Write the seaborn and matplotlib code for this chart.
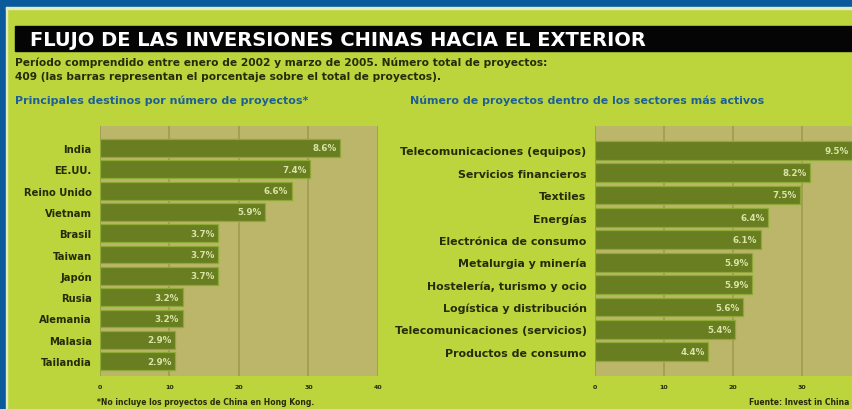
import matplotlib.pyplot as plt
from matplotlib.patches import Rectangle
import pandas as pd
import seaborn as sns

# principales destinos (numero de proyectos y porcentaje rotulado)
destinos = ["India", "EE.UU.", "Reino Unido", "Vietnam", "Brasil", "Taiwan",
            "Japón", "Rusia", "Alemania", "Malasia", "Tailandia"]
destinos_proy = [34.5, 30.2, 27.6, 23.7, 17.0, 17.0, 17.0, 11.9, 11.9, 10.8, 10.8]
destinos_pct = ["8.6%", "7.4%", "6.6%", "5.9%", "3.7%", "3.7%", "3.7%",
                "3.2%", "3.2%", "2.9%", "2.9%"]

# sectores mas activos
sectores = ["Telecomunicaciones (equipos)", "Servicios financieros", "Textiles",
            "Energías", "Electrónica de consumo", "Metalurgia y minería",
            "Hostelería, turismo y ocio", "Logística y distribución",
            "Telecomunicaciones (servicios)", "Productos de consumo"]
sectores_proy = [37.3, 31.2, 29.7, 25.1, 24.0, 22.8, 22.8, 21.4, 20.3, 16.4]
sectores_pct = ["9.5%", "8.2%", "7.5%", "6.4%", "6.1%", "5.9%", "5.9%",
                "5.6%", "5.4%", "4.4%"]

ticks = [0, 10, 20, 30, 40]

LIME = "#bdd53c"
TAN = "#bcb66a"
GRID = "#a39c55"
BAR = "#687e20"
BAR_EDGE = "#8eaa36"
TXT = "#262b08"
BLUE_TXT = "#1d5f96"
FRAME = "#0a5a9c"

W, H = 853, 410

fig = plt.figure(figsize=(8.53, 4.10), dpi=100, facecolor=LIME)

# marco azul arriba e izquierda
fig.patches.append(Rectangle((0, 1 - 8 / H), 1, 8 / H, transform=fig.transFigure, color=FRAME))
fig.patches.append(Rectangle((0, 0), 6 / W, 1, transform=fig.transFigure, color=FRAME))
fig.patches.append(Rectangle((6 / W, 1 - 10 / H), 1, 2 / H, transform=fig.transFigure, color="#e4edc0"))
fig.patches.append(Rectangle((6 / W, 0), 1.5 / W, 1 - 8 / H, transform=fig.transFigure, color="#e4edc0"))

# barra del titulo
fig.patches.append(Rectangle((15 / W, 1 - 52 / H), 1, 25 / H, transform=fig.transFigure, color="#050505"))
fig.text(30 / W, 1 - 40 / H, "FLUJO DE LAS INVERSIONES CHINAS HACIA EL EXTERIOR",
         color="white", fontsize=14, fontweight="bold", va="center", ha="left")

fig.text(15 / W, 1 - 63 / H,
         "Período comprendido entre enero de 2002 y marzo de 2005. Número total de proyectos:",
         color=TXT, fontsize=7.7, fontweight="bold", va="center")
fig.text(15 / W, 1 - 77 / H,
         "409 (las barras representan el porcentaje sobre el total de proyectos).",
         color=TXT, fontsize=7.7, fontweight="bold", va="center")

fig.text(15 / W, 1 - 101 / H, "Principales destinos por número de proyectos*",
         color=BLUE_TXT, fontsize=8, fontweight="bold", va="center")
fig.text(410 / W, 1 - 101 / H, "Número de proyectos dentro de los sectores más activos",
         color=BLUE_TXT, fontsize=7.9, fontweight="bold", va="center")


def panel(ax, names, vals, pcts, ylim, ylab_size, xlabels):
    df = pd.DataFrame({"nombre": names, "proyectos": vals})
    sns.barplot(data=df, x="proyectos", y="nombre", ax=ax, color=BAR, saturation=1,
                width=0.84, edgecolor=BAR_EDGE, linewidth=0.9, zorder=3)
    ax.set_facecolor(TAN)
    ax.set_xlim(0, 40)
    ax.set_ylim(ylim)
    ax.set_xticks(ticks)
    ax.set_xticklabels(xlabels)
    ax.grid(axis="x", color=GRID, lw=1.3, zorder=0)
    ax.grid(axis="y", visible=False)
    ax.set_axisbelow(True)
    for s in ax.spines.values():
        s.set_visible(False)
    ax.tick_params(axis="y", length=0, pad=6, labelsize=ylab_size, labelcolor=TXT)
    ax.tick_params(axis="x", length=0, pad=6, labelsize=4.5, labelcolor=TXT)
    for lbl in ax.get_yticklabels() + ax.get_xticklabels():
        lbl.set_fontweight("bold")
    ax.set_xlabel("")
    ax.set_ylabel("")
    for p, t in zip(ax.patches, pcts):
        ax.text(p.get_width() - 0.5, p.get_y() + p.get_height() / 2, t,
                ha="right", va="center", color="#d9e4a6", fontsize=6.3,
                fontweight="bold", zorder=4)


ax1 = fig.add_axes([100 / W, 1 - 377 / H, 278 / W, 250 / H])
panel(ax1, destinos, destinos_proy, destinos_pct, (10.7, -1.03), 7.2,
      [str(t) for t in ticks])

ax2 = fig.add_axes([595 / W, 1 - 377 / H, 276 / W, 250 / H])
# la marca de 40 queda fuera del recorte derecho
panel(ax2, sectores, sectores_proy, sectores_pct, (10.08, -1.08), 7.9,
      [str(t) for t in ticks[:-1]] + [""])

fig.text(97 / W, 1 - 403 / H, "*No incluye los proyectos de China en Hong Kong.",
         color=TXT, fontsize=5.5, fontweight="bold", va="center")
fig.text(849 / W, 1 - 403 / H, "Fuente: Invest in China",
         color=TXT, fontsize=5.5, fontweight="bold", va="center", ha="right")

fig.savefig("out.png", dpi=100, facecolor=LIME)
